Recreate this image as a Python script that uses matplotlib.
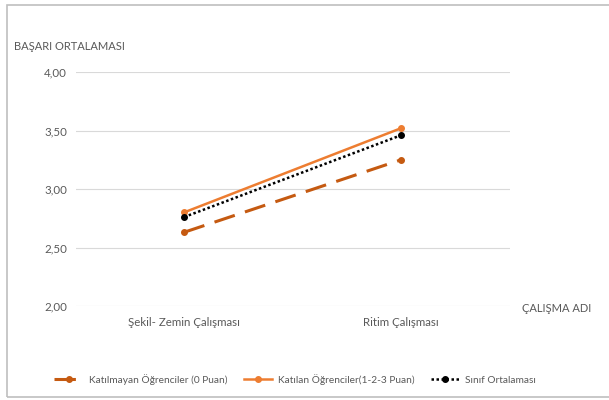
import matplotlib
matplotlib.use("Agg")
import matplotlib.pyplot as plt
from matplotlib.patches import Rectangle
from matplotlib.ticker import FuncFormatter

plt.rcParams["font.family"] = ["Lato", "DejaVu Sans"]

# data
categories = ["Şekil- Zemin Çalışması", "Ritim Çalışması"]
katilmayan = [2.63, 3.25]
katilan = [2.80, 3.52]
sinif = [2.76, 3.46]
series_names = [
    "Katılmayan Öğrenciler (0 Puan)",
    "Katılan Öğrenciler(1-2-3 Puan)",
    "Sınıf Ortalaması",
]
y_ticks = [2.0, 2.5, 3.0, 3.5, 4.0]

text_col = "#595959"
grid_col = "#d9d9d9"

fig = plt.figure(figsize=(6.09, 4.0), dpi=100)
ax = fig.add_axes([0.124, 0.235, 0.713, 0.585])

x = range(len(categories))
ax.plot(x, katilmayan, color="#c55a11", lw=2.2, dashes=(7, 3.5),
        marker="o", ms=4, label=series_names[0])
ax.plot(x, katilan, color="#ed7d31", lw=1.8,
        marker="o", ms=4, label=series_names[1])
ax.plot(x, sinif, color="black", lw=1.8, ls=(0, (1, 1)),
        marker="o", ms=4, label=series_names[2])

ax.set_xlim(-0.5, 1.5)
ax.set_ylim(2.0, 4.0)
ax.set_yticks(y_ticks)
ax.yaxis.set_major_formatter(FuncFormatter(lambda v, p: f"{v:.2f}".replace(".", ",")))
ax.set_xticks(list(x))
ax.set_xticklabels(categories)
ax.grid(axis="y", color=grid_col, lw=0.8)
ax.set_axisbelow(True)
for s in ax.spines.values():
    s.set_visible(False)
ax.tick_params(length=0, labelsize=8.3, colors=text_col)
ax.tick_params(axis="y", pad=6)
ax.tick_params(axis="x", pad=8)

fig.text(0.023, 0.885, "BAŞARI ORTALAMASI", fontsize=8, color=text_col,
         ha="left", va="center")
fig.text(0.857, 0.228, "ÇALIŞMA ADI", fontsize=8, color=text_col,
         ha="left", va="center")

fig.legend(loc="center", bbox_to_anchor=(0.485, 0.052), ncol=3, frameon=False,
           fontsize=7.3, labelcolor=text_col, handlelength=2.8,
           columnspacing=1.6, handletextpad=0.6)

# outer chart frame
fig.patches.append(Rectangle((0.011, 0.008), 1.2, 0.98, transform=fig.transFigure,
                             fill=False, edgecolor="#bfbfbf", lw=1.2))

fig.savefig("out.png", dpi=100)
